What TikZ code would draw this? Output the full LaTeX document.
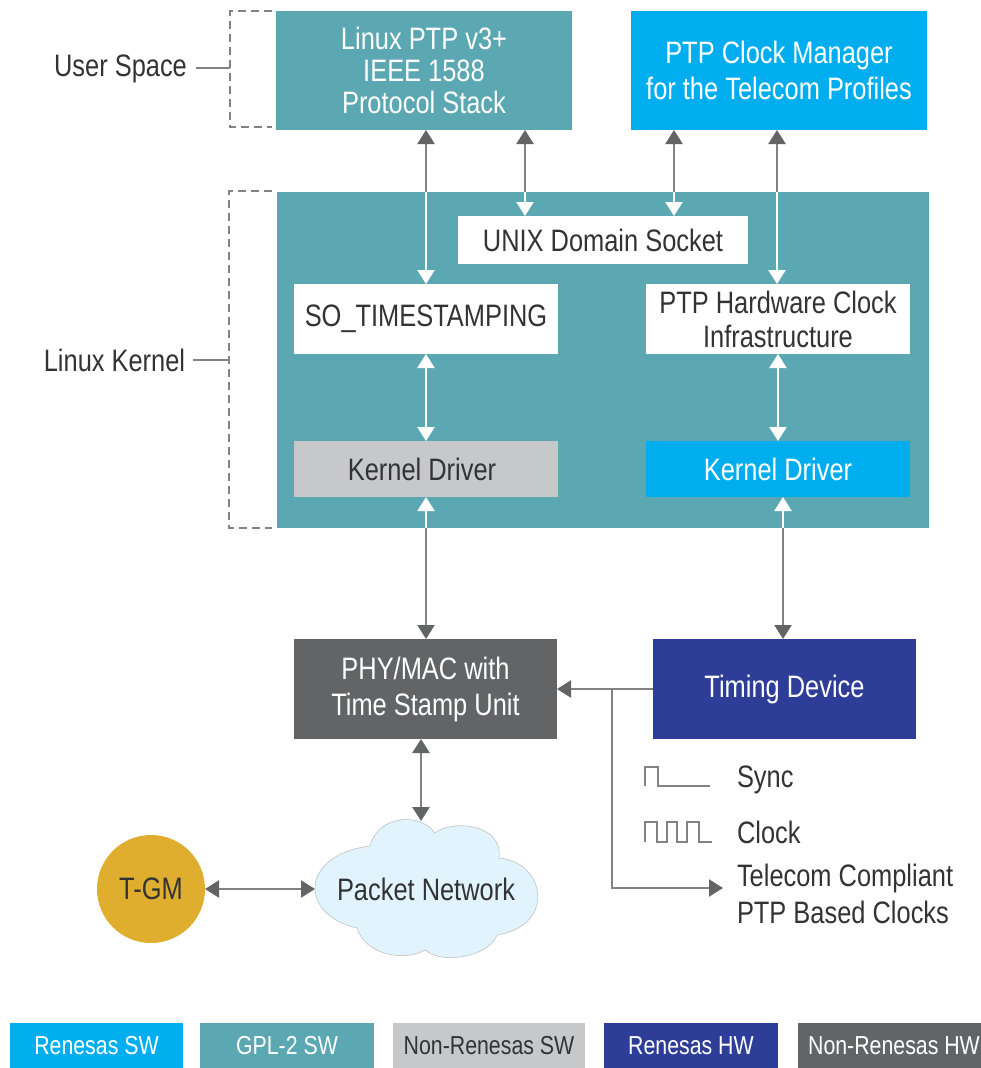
\documentclass[tikz,border=0pt]{standalone}
\usepackage{fontspec}
\setmainfont[FakeStretch=0.82]{Liberation Sans}
\usetikzlibrary{arrows.meta}
\definecolor{teal1}{HTML}{5BA8B3}
\definecolor{blue1}{HTML}{00AEEF}
\definecolor{navy1}{HTML}{2E3D98}
\definecolor{gray1}{HTML}{C7C8CA}
\definecolor{gray2}{HTML}{636466}
\definecolor{line1}{HTML}{808285}
\definecolor{ink}{HTML}{333335}
\definecolor{gold1}{HTML}{DFAE2E}
\definecolor{cloud1}{HTML}{E1F4FD}
\tikzset{
  box/.style={inner sep=0pt,outer sep=0pt,align=center,font=\fontsize{31}{36}\selectfont},
  wtxt/.style={box,text=white},
  dtxt/.style={box,text=ink},
  legend/.style={inner sep=0pt,outer sep=0pt,minimum height=45pt,font=\fontsize{26}{30}\selectfont},
  lbl/.style={inner sep=0pt,outer sep=0pt,align=left,text=ink,font=\fontsize{31}{37}\selectfont},
  gline/.style={draw=line1,line width=2.4pt},
  wline/.style={draw=white,line width=2.4pt},
  garrow/.style={gline,arrows={Triangle[width=17pt,length=14pt,color=gray2]-Triangle[width=17pt,length=14pt,color=gray2]}},
  gstart/.style={gline,arrows={Triangle[width=17pt,length=14pt,color=gray2]-}},
  gend/.style={gline,arrows={-Triangle[width=17pt,length=14pt,color=gray2]}},
  wstart/.style={wline,arrows={Triangle[width=17pt,length=14pt,color=white]-}},
  wend/.style={wline,arrows={-Triangle[width=17pt,length=14pt,color=white]}},
  warrow/.style={wline,arrows={Triangle[width=17pt,length=14pt,color=white]-Triangle[width=17pt,length=14pt,color=white]}},
  bracket/.style={draw=line1,line width=1.6pt,dash pattern=on 8pt off 5pt},
  leader/.style={draw=line1,line width=1.6pt},
  wave/.style={draw=line1,line width=1.8pt},
}
\begin{document}
\begin{tikzpicture}[x=1pt,y=-1pt]
\useasboundingbox[fill=white] (0,0) rectangle (981,1068);
% kernel block
\node[box,fill=teal1,minimum width=652pt,minimum height=336pt] (kernel) at (603,360) {};
% boxes
\node[wtxt,fill=teal1,minimum width=296pt,minimum height=119pt] (stack) at (424,70.5) {Linux PTP v3+\\[-4pt]IEEE 1588\\[-4pt]Protocol Stack};
\node[wtxt,fill=blue1,minimum width=296pt,minimum height=119pt] (mgr) at (779,70.5) {PTP Clock Manager\\for the Telecom Profiles};
\node[dtxt,fill=white,minimum width=290pt,minimum height=48pt] (unix) at (603,240) {UNIX Domain Socket};
\node[dtxt,fill=white,minimum width=264pt,minimum height=70pt] (sots) at (426,319) {\raisebox{-2pt}{SO\_TIMESTAMPING}};
\node[dtxt,fill=white,minimum width=264pt,minimum height=70pt] (phc) at (778,319) {PTP Hardware Clock\\[-2pt]Infrastructure};
\node[dtxt,fill=gray1,minimum width=264pt,minimum height=56pt] (kdg) at (426,469) {\hspace*{-8pt}Kernel Driver};
\node[wtxt,fill=blue1,minimum width=264pt,minimum height=56pt] (kdb) at (778,469) {Kernel Driver};
\node[wtxt,fill=gray2,minimum width=263pt,minimum height=100pt] (phy) at (425.5,689) {PHY/MAC with\\Time Stamp Unit};
\node[wtxt,fill=navy1,minimum width=263pt,minimum height=100pt] (timing) at (784.5,689) {Timing Device};
\node[dtxt,fill=gold1,circle,minimum size=108pt] (tgm) at (151,889) {T-GM};
% cloud
\fill[cloud1] (370,846)
  .. controls (378,815) and (420,812) .. (435,833)
  .. controls (450,820) and (503,822) .. (499,858)
  .. controls (545,862) and (557,925) .. (497,935)
  .. controls (490,955) and (445,966) .. (425,950)
  .. controls (405,962) and (365,955) .. (357,928)
  .. controls (299,915) and (299,855) .. (370,846) -- cycle;
\draw[line1!50,line width=.6pt] (370,846)
  .. controls (378,815) and (420,812) .. (435,833)
  .. controls (450,820) and (503,822) .. (499,858)
  .. controls (545,862) and (557,925) .. (497,935)
  .. controls (490,955) and (445,966) .. (425,950)
  .. controls (405,962) and (365,955) .. (357,928)
  .. controls (299,915) and (299,855) .. (370,846) -- cycle;
\node[dtxt] (net) at (426,889) {Packet Network};
\coordinate (cloudtop) at (421,821);
\coordinate (cloudleft) at (315,889);
% crossing points on kernel block edges
\coordinate (c1) at (426,192);
\coordinate (c2) at (525,192);
\coordinate (c3) at (674,192);
\coordinate (c4) at (777,192);
\coordinate (c5) at (426,528);
\coordinate (c6) at (783,528);
% connectors
\draw[gstart] (stack.south -| c1) -- (c1);
\draw[wend] (c1) -- (sots.north -| c1);
\draw[gstart] (stack.south -| c2) -- (c2);
\draw[wend] (c2) -- (unix.north -| c2);
\draw[gstart] (mgr.south -| c3) -- (c3);
\draw[wend] (c3) -- (unix.north -| c3);
\draw[gstart] (mgr.south -| c4) -- (c4);
\draw[wend] (c4) -- (phc.north -| c4);
\draw[warrow] (sots.south) -- (kdg.north);
\draw[warrow] (phc.south) -- (kdb.north);
\draw[wstart] (kdg.south -| c5) -- (c5);
\draw[gend] (c5) -- (phy.north -| c5);
\draw[wstart] (kdb.south -| c6) -- (c6);
\draw[gend] (c6) -- (timing.north -| c6);
\coordinate (phytop) at (421,739);
\draw[garrow] (phytop) -- (cloudtop);
\draw[garrow] (tgm.east) -- (cloudleft);
\draw[gend] (timing.west) -- (phy.east);
\coordinate (branch) at (612,689);
\coordinate (turn) at (612,888);
\coordinate (tele) at (723,888);
\draw[gend] (branch) -- (turn) -- (tele);
% waves
\draw[wave] (645,786) -- (645,767) -- (658,767) -- (658,786) -- (710,786);
\draw[wave] (645,842) -- (645,822) -- (657,822) -- (657,842) -- (667,842) -- (667,822) -- (677,822) -- (677,842) -- (687,842) -- (687,822) -- (699,822) -- (699,842) -- (712,842);
% labels
\node[lbl,anchor=west] (sync) at (737,779.5) {Sync};
\node[lbl,anchor=west] (clock) at (737,832) {Clock};
\node[lbl,anchor=west] (telecom) at (737,894) {Telecom Compliant\\PTP Based Clocks};
\node[lbl] (us) at (120.5,69) {User Space};
\node[lbl] (lk) at (114.5,360) {Linux Kernel};
% brackets
\coordinate (b1a) at (272,11);
\coordinate (b1b) at (230,11);
\coordinate (b1c) at (230,127);
\coordinate (b1d) at (272,127);
\draw[bracket] (b1a) -- (b1b) -- (b1c) -- (b1d);
\coordinate (b2a) at (272,191);
\coordinate (b2b) at (229,191);
\coordinate (b2c) at (229,528);
\coordinate (b2d) at (272,528);
\draw[bracket] (b2a) -- (b2b) -- (b2c) -- (b2d);
\coordinate (l1) at (230,68);
\coordinate (l2) at (229,360);
\draw[leader] (196,68) -- (l1);
\draw[leader] (193,360) -- (l2);
% legend
\node[legend,fill=blue1,text=white,minimum width=173pt] (lg1) at (96.5,1045.5) {\raisebox{-3pt}{Renesas SW}};
\node[legend,fill=teal1,text=white,minimum width=174pt] (lg2) at (287,1045.5) {\raisebox{-3pt}{GPL-2 SW}};
\node[legend,fill=gray1,text=ink,minimum width=192pt] (lg3) at (489,1045.5) {\raisebox{-3pt}{Non-Renesas SW}};
\node[legend,fill=navy1,text=white,minimum width=174pt] (lg4) at (691,1045.5) {\raisebox{-3pt}{Renesas HW}};
\node[legend,fill=gray2,text=white,minimum width=183pt] (lg5) at (889.5,1045.5) {\hspace*{9pt}\raisebox{-3pt}{Non-Renesas HW}};
\end{tikzpicture}
\end{document}
